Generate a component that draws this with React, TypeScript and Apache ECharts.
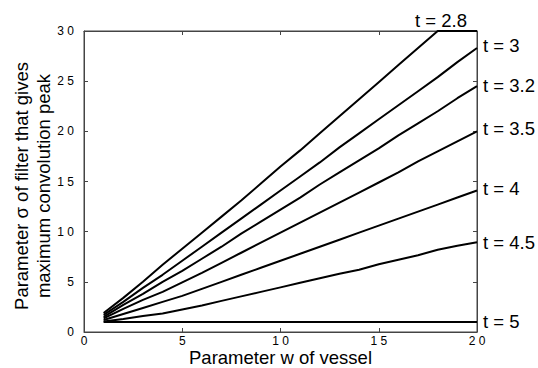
import React, { useEffect, useRef } from "react";
import * as echarts from "echarts";

const wValues = [1, 2, 3, 4, 5, 6, 7, 8, 9, 10, 11, 12, 13, 14, 15, 16, 17, 18, 19, 20];
const seriesNames = ["t = 2.8", "t = 3", "t = 3.2", "t = 3.5", "t = 4", "t = 4.5", "t = 5"];
const t28 = [1.9, 3.4, 5.0, 6.7, 8.3, 9.9, 11.5, 13.1, 14.8, 16.5, 18.1, 19.8, 21.5, 23.2, 24.9, 26.6, 28.3, 30, 30, 30];
const t30 = [1.7, 3.0, 4.4, 5.7, 7.1, 8.5, 9.9, 11.3, 12.7, 14.1, 15.5, 16.9, 18.4, 19.8, 21.2, 22.6, 24.0, 25.4, 26.9, 28.3];
const t32 = [1.5, 2.7, 3.8, 5.0, 6.1, 7.3, 8.5, 9.8, 11.0, 12.2, 13.4, 14.7, 15.9, 17.1, 18.3, 19.6, 20.8, 22.0, 23.3, 24.5];
const t35 = [1.35, 2.3, 3.2, 4.0, 4.95, 5.9, 6.9, 7.9, 8.9, 9.9, 10.9, 11.9, 12.9, 13.9, 14.9, 15.9, 17.0, 18.0, 19.0, 20.0];
const t40 = [1.2, 1.8, 2.4, 3.0, 3.6, 4.3, 5.0, 5.7, 6.4, 7.1, 7.8, 8.5, 9.2, 9.9, 10.6, 11.3, 12.0, 12.7, 13.4, 14.1];
const t45 = [1.05, 1.3, 1.6, 1.85, 2.25, 2.65, 3.1, 3.55, 4.0, 4.45, 4.9, 5.35, 5.8, 6.2, 6.75, 7.2, 7.65, 8.2, 8.6, 8.94];
const t50 = [1, 1, 1, 1, 1, 1, 1, 1, 1, 1, 1, 1, 1, 1, 1, 1, 1, 1, 1, 1];
const allSeries = [t28, t30, t32, t35, t40, t45, t50];
const labelOffsets: [number, number][] = [[-67, -11], [1, -3], [1, -1], [1, -3], [1, -2], [1, 0], [1, 0]];

const FONT = "'Liberation Sans', Arial, Helvetica, sans-serif";
const AXIS_COLOR = "#444";

const spaced = (v: number) => String(v).split("").join(" ");

export default function App() {
  const ref = useRef<HTMLDivElement>(null);
  useEffect(() => {
    if (!ref.current) return;
    const chart = echarts.init(ref.current, null, { renderer: "svg" });
    const axisLine = { show: true, onZero: false, lineStyle: { color: AXIS_COLOR, width: 1 } };
    const axisTick = { show: true, inside: true, length: 4, lineStyle: { color: AXIS_COLOR } };
    chart.setOption({
      animation: false,
      backgroundColor: "#fff",
      textStyle: { fontFamily: FONT },
      grid: {
        left: 84,
        right: 61,
        top: 31,
        bottom: 36,
        containLabel: false,
        outerBoundsMode: "none",
        show: true,
        borderColor: AXIS_COLOR,
        borderWidth: 1,
      },
      xAxis: [
        {
          type: "value",
          min: 0,
          max: 20,
          interval: 5,
          position: "bottom",
          name: "Parameter w of vessel",
          nameLocation: "middle",
          nameGap: 16,
          nameMoveOverlap: false,
          nameTextStyle: { fontSize: 18.5, lineHeight: 19, color: "#000", fontFamily: FONT, verticalAlign: "top" },
          axisLine,
          axisTick,
          splitLine: { show: false },
          axisLabel: { formatter: spaced, fontSize: 12, lineHeight: 12, color: "#000", margin: 3, fontFamily: FONT },
        },
        {
          type: "value",
          min: 0,
          max: 20,
          interval: 5,
          position: "top",
          axisLine,
          axisTick,
          splitLine: { show: false },
          axisLabel: { show: false },
        },
      ],
      yAxis: [
        {
          type: "value",
          min: 0,
          max: 30,
          interval: 5,
          position: "left",
          name: "Parameter σ of filter that gives\nmaximum convolution peak",
          nameLocation: "middle",
          nameRotate: 90,
          nameGap: 30,
          nameMoveOverlap: false,
          nameTextStyle: {
            fontSize: 18.5,
            color: "#000",
            lineHeight: 22,
            fontFamily: FONT,
            padding: [0, 9, 0, 0],
          },
          axisLine,
          axisTick,
          splitLine: { show: false },
          axisLabel: { formatter: spaced, fontSize: 12, color: "#000", margin: 10, fontFamily: FONT },
        },
        {
          type: "value",
          min: 0,
          max: 30,
          interval: 5,
          position: "right",
          axisLine,
          axisTick,
          splitLine: { show: false },
          axisLabel: { show: false },
        },
      ],
      series: allSeries.map((vals, i) => ({
        type: "line",
        name: seriesNames[i],
        data: wValues.map((w, j) => [w, vals[j]]),
        xAxisIndex: 0,
        yAxisIndex: 0,
        showSymbol: false,
        symbol: "none",
        clip: false,
        lineStyle: { color: "#000", width: 2 },
        endLabel: {
          show: true,
          formatter: seriesNames[i],
          color: "#000",
          fontSize: 18.5,
          fontFamily: FONT,
          distance: 5,
          offset: labelOffsets[i],
        },
      })),
    });
    return () => chart.dispose();
  }, []);
  return (
    <div
      ref={ref}
      style={{ position: "fixed", left: 0, top: 0, width: 538, height: 368, background: "#fff" }}
    />
  );
}
